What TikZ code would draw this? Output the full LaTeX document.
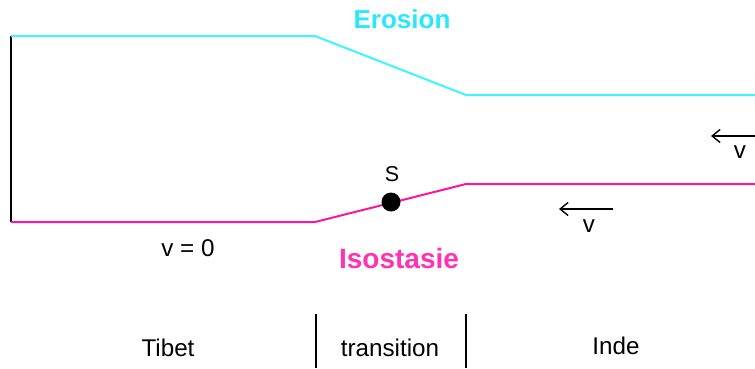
\documentclass[tikz,border=0pt]{standalone}
\usepackage{fontspec}
\setmainfont{Liberation Sans}
\usetikzlibrary{arrows.meta}
\definecolor{cyanline}{RGB}{60,245,255}
\definecolor{erotext}{RGB}{40,232,255}
\definecolor{magline}{RGB}{255,20,160}
\definecolor{isotext}{RGB}{255,50,180}
\begin{document}
\begin{tikzpicture}[x=1pt,y=-1pt,
  lbl/.style={anchor=base,inner sep=0pt,font=\fontsize{24.2}{26}\selectfont},
  title/.style={anchor=base,inner sep=0pt},
  velarrow/.style={line width=1.6pt,-{Straight Barb[length=8pt,width=13pt,line width=1.4pt]}}]
\useasboundingbox (0,0) rectangle (755,368);
% coordinates
\coordinate (ctop) at (11,36);
\coordinate (c1) at (315,36);
\coordinate (c2) at (466,95);
\coordinate (c3) at (755,95);
\coordinate (mbot) at (11,222);
\coordinate (m1) at (315,222);
\coordinate (m2) at (466,184);
\coordinate (m3) at (755,184);
% lines
\draw[line width=2pt] (ctop) -- (mbot);
\draw[cyanline,line width=2pt] (ctop) -- (c1) -- (c2) -- (c3);
\draw[magline,line width=2pt] (mbot) -- (m1) -- (m2) -- (m3);
% point S
\node[circle,fill=black,minimum size=19pt,inner sep=0pt] (S) at (391,202) {};
\node[lbl,font=\fontsize{21.5}{24}\selectfont] (slabel) at (392,181) {S};
% titles
\node[title,text=erotext,font=\fontsize{26}{28}\bfseries\selectfont] (ero) at (402,28) {Erosion};
\node[title,text=isotext,font=\fontsize{28}{30}\bfseries\selectfont] (iso) at (399,268) {Isostasie};
% velocities
\coordinate (a1s) at (755,136);
\coordinate (a1e) at (711,136);
\draw[velarrow] (a1s) -- (a1e);
\node[lbl] (v1) at (740,158) {v};
\coordinate (a2s) at (613,209);
\coordinate (a2e) at (559,209);
\draw[velarrow] (a2s) -- (a2e);
\node[lbl] (v2) at (589,232) {v};
\node[lbl] (v0) at (188,256) {v = 0};
% dividers
\coordinate (d1t) at (316,314);
\coordinate (d1b) at (316,368);
\coordinate (d2t) at (466,314);
\coordinate (d2b) at (466,368);
\draw[line width=2pt] (d1t) -- (d1b);
\draw[line width=2pt] (d2t) -- (d2b);
\node[lbl] (tibet) at (168,356) {Tibet};
\node[lbl] (trans) at (390,356) {transition};
\node[lbl] (inde) at (616,354) {Inde};
\end{tikzpicture}
\end{document}
